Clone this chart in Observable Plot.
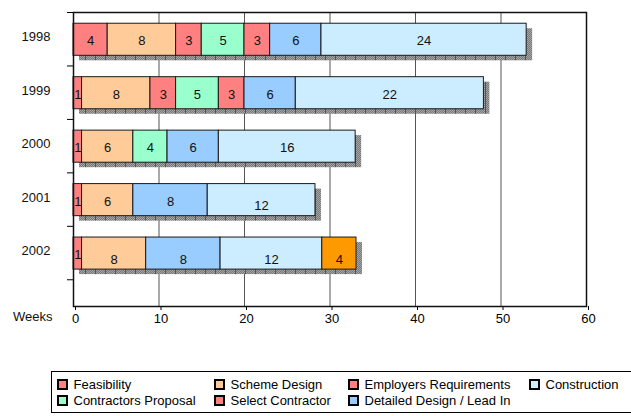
<!DOCTYPE html>
<html>
<head>
<meta charset="utf-8">
<script src="https://cdn.jsdelivr.net/npm/d3@7"></script>
<script src="https://cdn.jsdelivr.net/npm/@observablehq/plot@0.6"></script>
<style>
  html, body { margin: 0; background: #fff; font-family: 'Liberation Sans', Arial, sans-serif; overflow: hidden; }
  #legend { position: absolute; left: 51px; top: 371px; width: 620px; height: 40px; border: 1.5px solid #000; box-sizing: content-box; }
  .item { position: absolute; display: flex; align-items: center; height: 14px; font-size: 13px; color: #000; white-space: nowrap; }
  .sw { width: 11px; height: 11px; box-sizing: border-box; border: 2px solid #000; margin-right: 6px; }
</style>
</head>
<body>
<div id="chart"></div>
<div id="legend"></div>
<script>
// ---- data ----
const years = ["1998", "1999", "2000", "2001", "2002"];
const phases = ["Feasibility", "Scheme Design", "Employers Requirements", "Contractors Proposal",
                "Select Contractor", "Detailed Design / Lead In", "Construction", "Other"];
const phaseColors = ["#FF8080", "#FFCC99", "#FF8080", "#99FFCC", "#FF8080", "#99CCFF", "#CCECFF", "#FF9900"];

// bar lengths (weeks) per phase, one entry per year
const feasibility         = [4, 1, 1, 1, 1];
const schemeDesign        = [8, 8, 6, 6, 7.5];
const employersReq        = [3, 3, 0, 0, 0];
const contractorsProposal = [5, 5, 4, 0, 0];
const selectContractor    = [3, 3, 0, 0, 0];
const detailedDesign      = [6, 6, 6, 8.7, 8.7];
const construction        = [24, 22, 16, 12.6, 11.9];
const other               = [0, 0, 0, 0, 4];

// data labels as printed on the bars
const feasibilityLbl         = ["4", "1", "1", "1", "1"];
const schemeDesignLbl        = ["8", "8", "6", "6", "8"];
const employersReqLbl        = ["3", "3", "", "", ""];
const contractorsProposalLbl = ["5", "5", "4", "", ""];
const selectContractorLbl    = ["3", "3", "", "", ""];
const detailedDesignLbl      = ["6", "6", "6", "8", "8"];
const constructionLbl        = ["24", "22", "16", "12", "12"];
const otherLbl               = ["", "", "", "", "4"];

const xTicks = [0, 10, 20, 30, 40, 50, 60];
const legendOrder = ["Feasibility", "Scheme Design", "Employers Requirements", "Construction",
                     "Contractors Proposal", "Select Contractor", "Detailed Design / Lead In"];

// ---- build table ----
const seriesValues = [feasibility, schemeDesign, employersReq, contractorsProposal, selectContractor, detailedDesign, construction, other];
const seriesLabels = [feasibilityLbl, schemeDesignLbl, employersReqLbl, contractorsProposalLbl, selectContractorLbl, detailedDesignLbl, constructionLbl, otherLbl];
const segments = [];
const totals = [];
years.forEach((year, i) => {
  let acc = 0;
  phases.forEach((phase, j) => {
    const v = seriesValues[j][i];
    if (!v) return;
    segments.push({year, i, phase, x1: acc, x2: acc + v, label: seriesLabels[j][i]});
    acc += v;
  });
  totals.push({year, i, total: acc});
});
const lowered = d => (d.year === "2001" && d.phase === "Construction") || (d.year === "2002" && d.phase !== "Feasibility");

const chart = Plot.plot({
  width: 631, height: 340,
  marginLeft: 73, marginRight: 45, marginTop: 12, marginBottom: 34,
  style: {fontFamily: "'Liberation Sans', Arial, sans-serif", fontSize: "13px", color: "#000", background: "#fff"},
  x: {domain: [0, 60]},
  y: {domain: [5.5, 0]},
  color: {domain: phases, range: phaseColors},
  marks: [
    Plot.ruleX([10, 20, 30, 40, 50], {stroke: "#555", strokeWidth: 1}),
    Plot.rect(totals, {x1: d => 0, x2: "total", y1: d => d.i + 0.21, y2: d => d.i + 0.81, dx: 6, dy: 5, fill: "url(#shadowPat)"}),
    Plot.rect(segments, {x1: "x1", x2: "x2", y1: d => d.i + 0.21, y2: d => d.i + 0.81, fill: "phase", stroke: "#1a1a1a", strokeWidth: 1}),
    Plot.text(segments.filter(d => !lowered(d)), {x: d => (d.x1 + d.x2) / 2, y: d => d.i + 0.51, text: "label", fill: "#111", dy: 1.5}),
    Plot.text(segments.filter(lowered), {x: d => (d.x1 + d.x2) / 2, y: d => d.i + 0.51, text: "label", fill: "#111", dy: 6}),
    Plot.text(years, {y: (d, i) => i + 0.46, frameAnchor: "left", textAnchor: "end", dx: -23, text: d => d, fill: "#111"}),
    Plot.text(["Weeks"], {frameAnchor: "bottom-left", textAnchor: "end", dx: -21, dy: 14, text: d => d, fill: "#111"}),
    Plot.axisX({ticks: xTicks, tickSize: 4, tickPadding: 3, dx: 2, label: null, tickFormat: d => String(d)}),
    Plot.axisY({ticks: [0, 1, 2, 3, 4, 5], tickSize: 6, tickFormat: () => "", label: null}),
    Plot.frame({stroke: "#111", strokeWidth: 1.5})
  ]
});

// shadow texture
const ns = "http://www.w3.org/2000/svg";
const defs = document.createElementNS(ns, "defs");
defs.innerHTML = '<pattern id="shadowPat" width="10" height="2" patternUnits="userSpaceOnUse">' +
  '<rect width="10" height="2" fill="#a6a6a6"/>' +
  '<rect x="0" y="0" width="1" height="1" fill="#777"/><rect x="2" y="0" width="1" height="1" fill="#777"/>' +
  '<rect x="4" y="0" width="1" height="1" fill="#777"/><rect x="6" y="0" width="1" height="1" fill="#777"/>' +
  '<rect x="8" y="0" width="1" height="1" fill="#777"/>' +
  '<rect x="1" y="1" width="1" height="1" fill="#777"/><rect x="3" y="1" width="1" height="1" fill="#777"/>' +
  '<rect x="5" y="1" width="1" height="1" fill="#777"/><rect x="7" y="1" width="1" height="1" fill="#777"/>' +
  '<rect x="9" y="0" width="1" height="2" fill="#555"/>' +
  '</pattern>';
chart.insertBefore(defs, chart.firstChild);
document.getElementById("chart").appendChild(chart);

// legend
const colorOf = p => phaseColors[phases.indexOf(p)];
const colLeft = [4.5, 161.5, 295.5, 476.5];
const rowTop = [5, 21];
const legend = document.getElementById("legend");
legendOrder.forEach((p, k) => {
  const item = document.createElement("div");
  item.className = "item";
  item.style.left = colLeft[k % 4] + "px";
  item.style.top = rowTop[Math.floor(k / 4)] + "px";
  const sw = document.createElement("span");
  sw.className = "sw";
  sw.style.background = colorOf(p);
  const t = document.createElement("span");
  t.textContent = p;
  item.appendChild(sw);
  item.appendChild(t);
  legend.appendChild(item);
});
</script>
</body>
</html>
